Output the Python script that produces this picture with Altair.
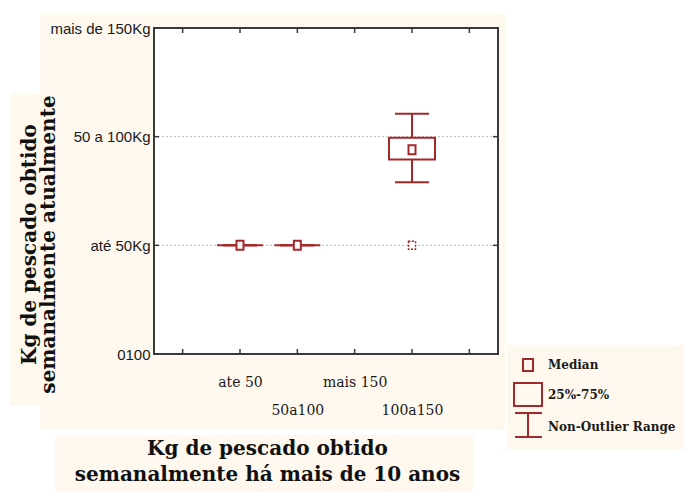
import altair as alt
import pandas as pd

# ---------------- data ----------------
categories = ["", "ate 50", "50a100", "mais 150", "100a150", ""]
cat_pos = [1, 2, 3, 4, 5, 6]
y_labels = ["0100", "até 50Kg", "50 a 100Kg", "mais de 150Kg"]
y_pos = [0, 1, 2, 3]
grid_y = [1, 2]

box_x = [2, 3, 5]
box_min = [1, 1, 1.58]
box_q1 = [1, 1, 1.79]
box_med = [1, 1, 1.88]
box_q3 = [1, 1, 1.99]
box_max = [1, 1, 2.21]
outlier_x = [5]
outlier_y = [1]

legend_labels = ["Median", "25%-75%", "Non-Outlier Range"]
x_title = ["Kg de pescado obtido", "semanalmente há mais de 10 anos"]
y_title = ["Kg de pescado obtido", "semanalmente atualmente"]

# ---------------- style ----------------
RED = "#a3282b"
CREAM = "#fef8ee"
FRAME = "#3a3a3a"
W, H = 344, 326

boxes = pd.DataFrame({"x": box_x, "lo": box_min, "q1": box_q1, "med": box_med,
                      "q3": box_q3, "hi": box_max})
outl = pd.DataFrame({"x": outlier_x, "y": outlier_y})
ticks_x = pd.DataFrame({"x": cat_pos})
ticks_y = pd.DataFrame({"y": grid_y})
one = pd.DataFrame({"a": [0]})

# label expressions built from the lists
parts = []
for p, c in zip(cat_pos, categories):
    if c == "":
        continue
    val = f"['', '{c}']" if p % 2 == 1 else f"'{c}'"
    parts.append(f"datum.value == {p} ? {val} : ")
x_expr = "".join(parts) + "''"
y_expr = "".join(f"datum.value == {p} ? '{l}' : " for p, l in zip(y_pos, y_labels)) + "''"

xscale = alt.Scale(domain=[0.5, 6.5], nice=False, zero=False)
yscale = alt.Scale(domain=[0, 3], nice=False, zero=False)

x_axis = alt.Axis(values=cat_pos, labelExpr=x_expr, grid=False, domain=False, ticks=False,
                  tickSize=0, labelPadding=21, labelBaseline="top", labelLineHeight=28,
                  labelFont="DejaVu Serif", labelFontSize=14, labelColor="#1a1a1a",
                  labelOverlap=False, labelFlush=False, labelBound=False,
                  title=x_title, titleFont="DejaVu Serif", titleFontSize=20,
                  titleFontWeight="bold", titleColor="#111", titleLineHeight=26,
                  titleX=113, titleY=94, titleAlign="center", titleBaseline="middle",
                  titleAnchor="start", zindex=1)
y_axis = alt.Axis(values=y_pos, labelExpr=y_expr, grid=False, domain=False, ticks=False,
                  tickSize=0, labelPadding=4, labelFont="Liberation Sans", labelFontSize=15,
                  labelColor="#1a1a1a", labelOverlap=False, labelFlush=False, labelBound=False,
                  title=y_title, titleFont="DejaVu Serif", titleFontSize=20,
                  titleFontWeight="bold", titleColor="#111", titleLineHeight=19,
                  titleX=-125, titleY=216, titleAngle=270, titleAlign="center",
                  titleBaseline="middle", titleAnchor="start", zindex=1)


def X(field):
    return alt.X(field, scale=xscale, axis=x_axis)


def Y(field):
    return alt.Y(field, scale=yscale, axis=y_axis)


def panel(x1, x2, y1, y2, color, stroke=None):
    kw = {"color": color}
    if stroke:
        kw = {"fill": color, "stroke": stroke, "strokeWidth": 2}
    return alt.Chart(one).mark_rect(**kw).encode(
        x=alt.value(x1), x2=alt.value(x2), y=alt.value(y1), y2=alt.value(y2))


# decorative cream panels (page coords minus plot origin 154,28)
bg = [
    panel(40 - 154, 505 - 154, 13 - 28, 430 - 28, CREAM),
    panel(10 - 154, 40 - 154, 93 - 28, 405 - 28, CREAM),
    panel(55 - 154, 473 - 154, 435 - 28, 495 - 28, CREAM),
    panel(507 - 154, 692 - 154, 345 - 28, 450 - 28, CREAM),
    panel(0, W, 0, H, "white", stroke=FRAME),
]

grid = alt.Chart(ticks_y).mark_rule(color="#b8b8b8", strokeDash=[2, 2], strokeWidth=1).encode(
    y=Y("y:Q"), x=alt.value(0), x2=alt.value(W))

tick_b = alt.Chart(ticks_x).mark_rule(color=FRAME, strokeWidth=1.5).encode(
    x=X("x:Q"), y=alt.value(H), y2=alt.value(H - 5))
tick_t = alt.Chart(ticks_x).mark_rule(color=FRAME, strokeWidth=1.5).encode(
    x=X("x:Q"), y=alt.value(0), y2=alt.value(5))
tick_l = alt.Chart(ticks_y).mark_rule(color=FRAME, strokeWidth=1.5).encode(
    y=Y("y:Q"), x=alt.value(0), x2=alt.value(5))
tick_r = alt.Chart(ticks_y).mark_rule(color=FRAME, strokeWidth=1.5).encode(
    y=Y("y:Q"), x=alt.value(W), x2=alt.value(W - 5))

base = alt.Chart(boxes)
whisker = base.mark_rule(color=RED, strokeWidth=2).encode(
    x=X("x:Q"), y=Y("lo:Q"), y2="hi:Q")
caps_lo = base.mark_rule(color=RED, strokeWidth=2, xOffset=-17, x2Offset=17).encode(
    x=X("x:Q"), x2="x:Q", y=Y("lo:Q"))
caps_hi = base.mark_rule(color=RED, strokeWidth=2, xOffset=-17, x2Offset=17).encode(
    x=X("x:Q"), x2="x:Q", y=Y("hi:Q"))
box = base.mark_rect(fill="white", stroke=RED, strokeWidth=2, xOffset=-23, x2Offset=23).encode(
    x=X("x:Q"), x2="x:Q", y=Y("q1:Q"), y2="q3:Q")
med = base.mark_rect(fill="white", stroke=RED, strokeWidth=2, xOffset=-3.5, x2Offset=3.5,
                     yOffset=-4.5, y2Offset=4.5).encode(
    x=X("x:Q"), x2="x:Q", y=Y("med:Q"), y2="med:Q")
out = alt.Chart(outl).mark_rect(fill="white", stroke=RED, strokeWidth=1.5, strokeDash=[2, 1.5],
                                xOffset=-3.5, x2Offset=3.5, yOffset=-4, y2Offset=4).encode(
    x=X("x:Q"), x2="x:Q", y=Y("y:Q"), y2="y:Q")

# legend (drawn)
lg = [
    alt.Chart(one).mark_rect(fill=CREAM, stroke=RED, strokeWidth=2).encode(
        x=alt.value(369), x2=alt.value(379), y=alt.value(331), y2=alt.value(343)),
    alt.Chart(one).mark_rect(fill=CREAM, stroke=RED, strokeWidth=2).encode(
        x=alt.value(360), x2=alt.value(388), y=alt.value(355), y2=alt.value(378)),
    alt.Chart(one).mark_rule(color=RED, strokeWidth=2).encode(
        x=alt.value(374), y=alt.value(385), y2=alt.value(409)),
    alt.Chart(one).mark_rule(color=RED, strokeWidth=2).encode(
        x=alt.value(361), x2=alt.value(388), y=alt.value(385)),
    alt.Chart(one).mark_rule(color=RED, strokeWidth=2).encode(
        x=alt.value(361), x2=alt.value(388), y=alt.value(409)),
]
for lab, yy in zip(legend_labels, [337, 367, 399]):
    lg.append(alt.Chart(one).mark_text(align="left", baseline="middle", font="DejaVu Serif",
                                       fontSize=12, fontWeight="bold", color="#1a1a1a").encode(
        x=alt.value(394), y=alt.value(yy), text=alt.value(lab)))

chart = alt.layer(
    *bg, grid, whisker, box, caps_lo, caps_hi, med, out,
    tick_b, tick_t, tick_l, tick_r, *lg
).properties(
    width=W, height=H,
    autosize=alt.AutoSizeParams(type="none"),
    padding={"left": 146, "top": 20, "right": 186, "bottom": 138},
    background="white",
).configure_view(stroke=None)

chart.save("out.html", embed_options={"renderer": "svg", "actions": False})
